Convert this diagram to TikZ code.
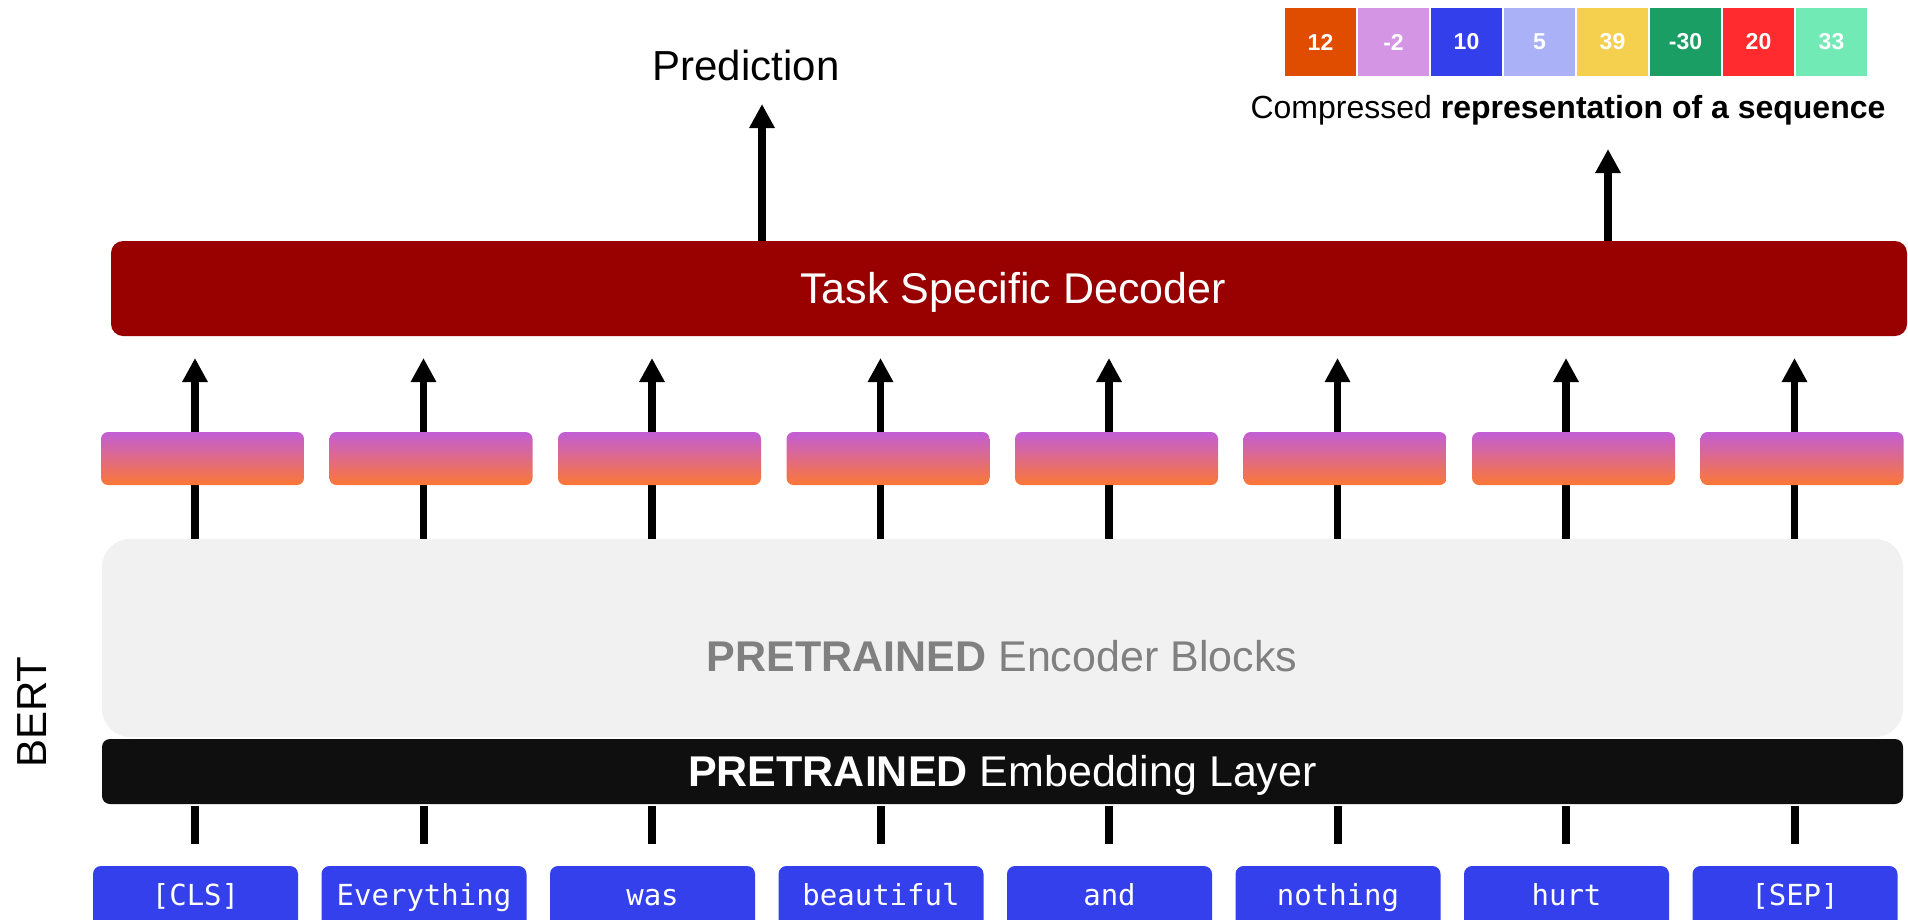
\documentclass[tikz,border=0pt]{standalone}
\usepackage{fontspec}
\setmainfont{Liberation Sans}
\newfontfamily\tokfont{DejaVu Sans Mono}
\usetikzlibrary{arrows.meta}

\newcommand\pxsize[1]{\fontsize{#1}{#1}\selectfont}

\definecolor{decred}{HTML}{990000}
\definecolor{encgray}{HTML}{F1F1F1}
\definecolor{enctext}{HTML}{808080}
\definecolor{embblack}{HTML}{0F0F0F}
\definecolor{tokblue}{HTML}{3340EB}
\definecolor{gradtop}{HTML}{C25ED6}
\definecolor{gradmid}{HTML}{DE6DA0}
\definecolor{gradbot}{HTML}{FC7736}
\definecolor{sqA}{HTML}{E14D00}
\definecolor{sqB}{HTML}{D595E5}
\definecolor{sqC}{HTML}{333FEA}
\definecolor{sqD}{HTML}{AAB1F6}
\definecolor{sqE}{HTML}{F5CF4E}
\definecolor{sqF}{HTML}{1A9E64}
\definecolor{sqG}{HTML}{FF2B2E}
\definecolor{sqH}{HTML}{72EAB5}

\begin{document}
\begin{tikzpicture}[x=1pt,y=-1pt,
  block/.style={rectangle, inner sep=0pt, outer sep=0pt},
  arr/.style={line width=7.5pt, -{Triangle[width=24pt,length=24pt]}},
  stub/.style={line width=8pt},
  tokbox/.style={block, fill=tokblue, rounded corners=8pt,
    minimum width=205pt, minimum height=68pt, text=white,
    font=\tokfont\pxsize{29}, text height=21pt, text depth=11pt},
  gradbox/.style={block, rounded corners=7pt, minimum width=203pt,
    minimum height=53pt, top color=gradtop, middle color=gradmid,
    bottom color=gradbot},
  square/.style={block, minimum width=71pt, minimum height=68pt,
    text=white, font=\bfseries\pxsize{23}},
  bigtext/.style={font=\pxsize{42}, inner sep=0pt, anchor=base}]

\useasboundingbox (0,0) rectangle (1908,919);
\clip (0,0) rectangle (1908,919);

% column positions of the token streams
\foreach \i in {0,...,7}
  \coordinate (col\i) at ({195+228.5*\i},0);

% main blocks
\node[block, fill=decred, rounded corners=12pt, minimum width=1796pt,
  minimum height=95pt, text=white, font=\pxsize{43},
  text height=30.8pt, text depth=0pt] (dec) at (1009,288.5)
  {\hspace*{8pt}Task Specific Decoder};
\node[block, fill=encgray, rounded corners=28pt, minimum width=1801pt,
  minimum height=198pt] (enc) at (1002.5,638) {};
\node[bigtext, font=\pxsize{43}, text=enctext] (enclabel) at (1002,671)
  {\textbf{PRETRAINED} Encoder Blocks};
\node[block, fill=embblack, rounded corners=8pt, minimum width=1801pt,
  minimum height=65pt, text=white, font=\pxsize{43},
  text height=30.8pt, text depth=0pt] (emb) at (1002.5,771.5)
  {\textbf{PRETRAINED} Embedding Layer};

\node[bigtext, rotate=90] (bert) at (46,712) {BERT};

% input tokens
\foreach \t [count=\n from 0] in {[CLS],Everything,was,beautiful,and,nothing,hurt,[SEP]}
  \node[tokbox] (tok\n) at ({195.5+228.5*\n},900) {\t};

% embedding to token stubs
\foreach \i in {0,...,7}
  \draw[stub, shorten <=2pt, shorten >=22pt] (emb.south -| col\i) -- (tok\i.north -| col\i);

% encoder outputs flowing into the decoder
\foreach \i in {0,...,7}
  \draw[arr, shorten >=22pt] (enc.north -| col\i) -- (dec.south -| col\i);

% contextual embeddings
\foreach \i in {0,...,7}
  \node[gradbox] (g\i) at ({202.5+228.5*\i},458.5) {};

% prediction head
\node[bigtext] (pred) at (746,80) {Prediction};
\coordinate (predtip) at (762,104);
\draw[arr] (dec.north -| predtip) -- (predtip);

% compressed sequence vector
\foreach \v/\c [count=\n from 0] in {12/sqA,-2/sqB,10/sqC,5/sqD,39/sqE,-30/sqF,20/sqG,33/sqH}
  \node[square, fill=\c] (sq\n) at ({1284+73*\n+36.5},42) {\v};
\node[font=\pxsize{32}, inner sep=0pt, anchor=base] (comp) at (1568,118)
  {Compressed \textbf{representation of a sequence}};
\coordinate (comptip) at (1608,149);
\draw[arr] (dec.north -| comptip) -- (comptip);

\end{tikzpicture}
\end{document}
